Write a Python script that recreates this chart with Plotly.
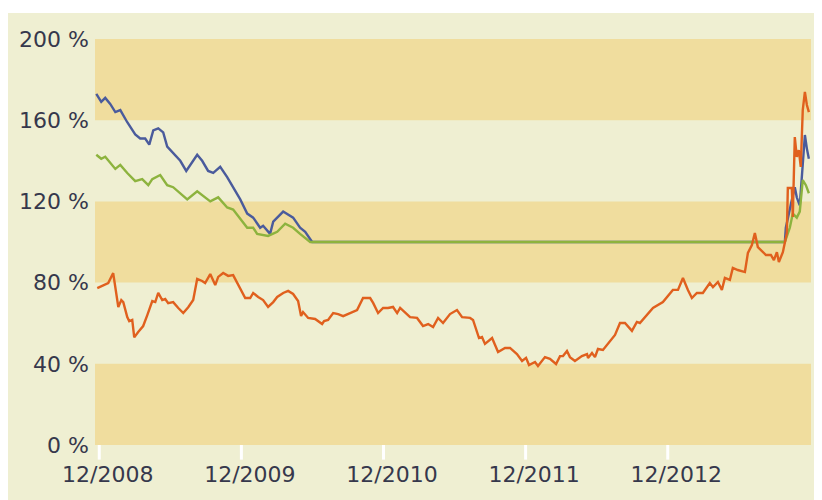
import plotly.graph_objects as go

# time as decimal years (12/2008 = 2008.917)
blue_t = [2008.896, 2008.931, 2008.959, 2008.994, 2009.030, 2009.065, 2009.114, 2009.170,
          2009.205, 2009.240, 2009.269, 2009.297, 2009.332, 2009.367, 2009.395, 2009.437,
          2009.487, 2009.529, 2009.557, 2009.606, 2009.641, 2009.683, 2009.719, 2009.768,
          2009.817, 2009.859, 2009.909, 2009.958, 2010.000, 2010.049, 2010.070, 2010.119,
          2010.141, 2010.211, 2010.281, 2010.330, 2010.366, 2010.415, 2013.741, 2013.748,
          2013.762, 2013.790, 2013.811, 2013.825, 2013.846, 2013.867, 2013.882, 2013.896,
          2013.910]
blue_v = [173, 169, 171, 168, 164, 165, 159, 153,
          151, 151, 148, 155, 156, 154, 147, 144,
          140, 135, 138, 143, 140, 135, 134, 137,
          132, 127, 121, 114, 112, 107, 108, 104,
          110, 115, 112, 107, 105, 100, 100, 107,
          112, 120.7, 127, 122, 118, 137, 152.7, 146,
          141]

green_t = [2008.896, 2008.931, 2008.959, 2008.994, 2009.030, 2009.065, 2009.114, 2009.170,
           2009.219, 2009.262, 2009.290, 2009.346, 2009.395, 2009.437, 2009.536, 2009.606,
           2009.698, 2009.754, 2009.817, 2009.859, 2009.958, 2010.000, 2010.028, 2010.105,
           2010.169, 2010.225, 2010.281, 2010.330, 2010.401, 2013.741, 2013.755, 2013.776,
           2013.797, 2013.825, 2013.846, 2013.867, 2013.889, 2013.910]
green_v = [143, 141, 142, 139, 136, 138, 134, 130,
           131, 128, 131, 133, 128, 127, 121, 125,
           120, 122, 117, 116, 107, 107, 104, 103,
           105, 109, 107, 104, 100, 100, 102.5, 107,
           114, 112, 115, 130.5, 128, 124]

orange_t = [2008.903, 2008.945, 2008.980, 2009.015, 2009.037, 2009.051, 2009.072, 2009.086,
            2009.114, 2009.128, 2009.149, 2009.163, 2009.191, 2009.226, 2009.255, 2009.290,
            2009.311, 2009.332, 2009.360, 2009.381, 2009.402, 2009.437, 2009.473, 2009.508,
            2009.543, 2009.578, 2009.606, 2009.641, 2009.662, 2009.698, 2009.733, 2009.754,
            2009.789, 2009.824, 2009.859, 2009.894, 2009.944, 2009.979, 2010.000, 2010.035,
            2010.070, 2010.105, 2010.141, 2010.169, 2010.211, 2010.246, 2010.281, 2010.316,
            2010.337, 2010.351, 2010.387, 2010.436, 2010.485, 2010.499, 2010.527, 2010.563,
            2010.598, 2010.633, 2010.696, 2010.731, 2010.773, 2010.823, 2010.844, 2010.879,
            2010.914, 2010.949, 2010.984, 2011.013, 2011.034, 2011.069, 2011.104, 2011.153,
            2011.195, 2011.231, 2011.266, 2011.301, 2011.336, 2011.385, 2011.434, 2011.470,
            2011.526, 2011.547, 2011.589, 2011.610, 2011.631, 2011.681, 2011.723, 2011.772,
            2011.807, 2011.856, 2011.892, 2011.920, 2011.941, 2011.983, 2012.004, 2012.053,
            2012.088, 2012.131, 2012.159, 2012.180, 2012.208, 2012.229, 2012.264, 2012.313,
            2012.349, 2012.356, 2012.384, 2012.405, 2012.426, 2012.461, 2012.496, 2012.546,
            2012.581, 2012.616, 2012.665, 2012.700, 2012.721, 2012.778, 2012.813, 2012.883,
            2012.953, 2012.989, 2013.024, 2013.059, 2013.087, 2013.122, 2013.164, 2013.213,
            2013.235, 2013.270, 2013.298, 2013.319, 2013.354, 2013.375, 2013.410, 2013.460,
            2013.481, 2013.509, 2013.530, 2013.551, 2013.573, 2013.608, 2013.643, 2013.664,
            2013.685, 2013.699, 2013.727, 2013.741, 2013.755, 2013.762, 2013.790, 2013.797,
            2013.811, 2013.825, 2013.839, 2013.853, 2013.867, 2013.882, 2013.896, 2013.910]
orange_v = [77.3, 78.8, 79.8, 84.7, 74.9, 68, 71.4, 70.4,
            63, 61, 61.6, 53, 55.7, 58.6, 64, 70.9,
            70.4, 74.9, 71.4, 71.9, 69.9, 70.4, 67.5, 65,
            67.9, 71.4, 81.8, 80.8, 79.8, 84.2, 78.8, 82.8,
            84.7, 83.3, 83.7, 78.8, 72.4, 72.4, 74.9, 72.9,
            71.4, 68, 70.4, 72.9, 74.9, 75.9, 74.4, 70.9,
            63.5, 65.5, 62.6, 62.1, 59.6, 61.1, 61.6, 65,
            64.5, 63.5, 65.5, 66.5, 72.4, 72.4, 70, 65,
            67.5, 67.5, 68, 65, 67.5, 65, 63, 62.6,
            58.6, 59.6, 58.1, 62.6, 60.1, 64.5, 66.5, 63,
            62.6, 61.6, 52.7, 53.2, 49.8, 52.7, 45.8, 47.8,
            47.8, 44.8, 41.4, 42.9, 39.4, 40.9, 38.9, 43.3,
            42.4, 39.9, 43.8, 43.8, 46.3, 43.3, 41.4, 43.8,
            44.8, 42.9, 45.3, 43.3, 47.3, 46.8, 49.8, 54.2,
            60.1, 60.1, 56.2, 60.6, 60.1, 65, 67.5, 70.4,
            76.4, 76.4, 82.3, 76.4, 72.4, 74.9, 74.9, 79.8,
            77.8, 80.3, 76.4, 82.3, 81.3, 87.2, 86.2, 85.2,
            94.6, 98.5, 104.4, 97.5, 96, 93.6, 93.6, 91.1,
            95, 90.1, 95, 100, 104.4, 126.6, 126.6, 112.3,
            151.7, 141.9, 145.3, 137, 165, 173.9, 167.5, 164]

x_tick_vals = [2008.917, 2009.917, 2010.917, 2011.917, 2012.917]
x_tick_text = ["12/2008", "12/2009", "12/2010", "12/2011", "12/2012"]
y_tick_vals = [0, 40, 80, 120, 160, 200]
y_tick_text = ["0 %", "40 %", "80 %", "120 %", "160 %", "200 %"]
band_ranges = [(0, 40), (80, 120), (160, 200)]

LABEL_SHIFT = 0.06  # labels sit slightly right of their tick marks

CREAM = "#EFEFD2"
BAND = "#F0DD9E"
BLUE = "#4A5B9C"
GREEN = "#8DB33E"
ORANGE = "#E0601E"

fig = go.Figure()
fig.add_trace(go.Scatter(x=blue_t, y=blue_v, mode="lines",
                         line=dict(color=BLUE, width=2.4), showlegend=False))
fig.add_trace(go.Scatter(x=green_t, y=green_v, mode="lines",
                         line=dict(color=GREEN, width=2.4), showlegend=False))
fig.add_trace(go.Scatter(x=orange_t, y=orange_v, mode="lines",
                         line=dict(color=ORANGE, width=2.4), showlegend=False))

shapes = []
for lo, hi in band_ranges:
    shapes.append(dict(type="rect", xref="x domain", yref="y", x0=0, x1=1, y0=lo, y1=hi,
                       fillcolor=BAND, line=dict(width=0), layer="below"))
# white tick marks below the axis
for tv in x_tick_vals:
    shapes.append(dict(type="line", xref="x", yref="paper", x0=tv, x1=tv, y0=0, y1=-0.036,
                       line=dict(color="white", width=3), layer="above"))
# white strip above the cream panel
shapes.append(dict(type="rect", xref="paper", yref="paper", x0=-0.3, x1=1.1,
                   y0=1.064, y1=1.2, fillcolor="white", line=dict(width=0), layer="below"))

fig.update_layout(
    width=822, height=500,
    margin=dict(l=87, r=19, t=31, b=63),
    paper_bgcolor=CREAM, plot_bgcolor=CREAM,
    shapes=shapes,
    font=dict(family="DejaVu Sans, sans-serif", size=22, color="#36384c"),
    xaxis=dict(range=[2008.887, 2013.925],
               tickvals=[v + LABEL_SHIFT for v in x_tick_vals], ticktext=x_tick_text,
               showgrid=False, zeroline=False, showline=False, ticks="",
               ticklabelstandoff=14, automargin=False),
    yaxis=dict(range=[0, 200], tickvals=y_tick_vals, ticktext=y_tick_text,
               showgrid=False, zeroline=False, showline=False, ticks="",
               ticklabelstandoff=5, automargin=False),
)

fig.write_html("out.html")
